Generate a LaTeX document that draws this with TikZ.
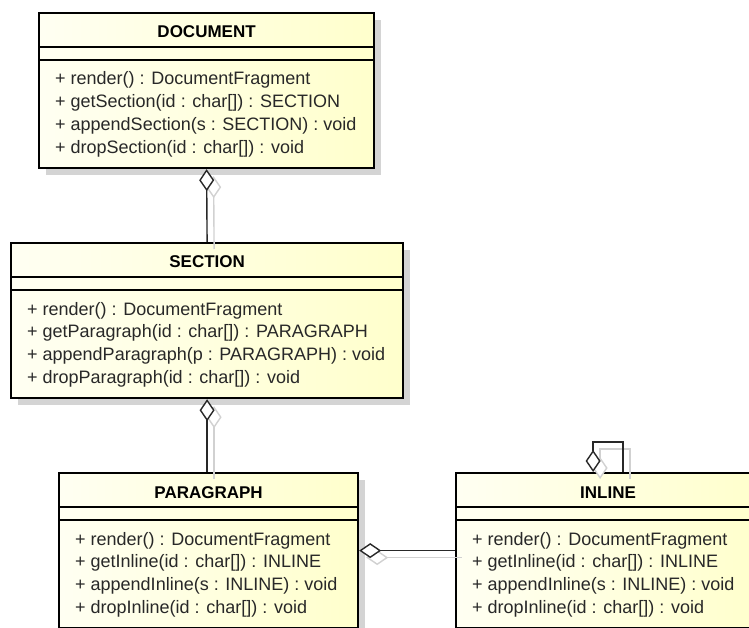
\documentclass[tikz,border=0pt]{standalone}
\usepackage{fontspec}
\setmainfont{Liberation Sans}
\usetikzlibrary{arrows.meta,shadows}

\definecolor{umlyellow}{RGB}{255,255,204}
\definecolor{umlink}{RGB}{40,40,40}

\tikzset{
  classbox/.style={rectangle, draw=black, line width=2.2pt, inner sep=0pt,
    left color=umlyellow!25!white, right color=umlyellow,
    drop shadow={shadow xshift=7pt, shadow yshift=-7pt, fill=black!17, opacity=1}},
  sepline/.style={draw=black, line width=1.2pt},
  classtitle/.style={inner sep=0pt, font=\bfseries\fontsize{17}{20}\selectfont, text=black},
  opline/.style={inner sep=0pt, font=\fontsize{18}{22}\selectfont, text=umlink},
  assoc/.style={draw=umlink, line width=1.4pt},
  agg/.style={assoc, arrows={Diamond[fill=white,length=22pt,width=15pt]-}},
  aggshadow/.style={agg, draw=black!18},
  sh/.style={xshift=7pt, yshift=-7pt},
}

% \umlclass{name}{left}{top}{width}{title}{op1}{op2}{op3}{op4}
\newcommand\umlclass[9]{%
  \node[classbox, anchor=north west, minimum width=#4pt, minimum height=155pt] (#1) at (#2,#3) {};
  \draw[sepline] ([yshift=-35pt]#1.north west) -- ([yshift=-35pt]#1.north east);
  \draw[sepline] ([yshift=-48pt]#1.north west) -- ([yshift=-48pt]#1.north east);
  \node[classtitle, anchor=base] (#1-title) at ([yshift=-26pt]#1.north) {#5};
  \node[opline, anchor=base west] (#1-op1) at ([xshift=17pt,yshift=-73pt]#1.north west) {#6};
  \node[opline, anchor=base west] (#1-op2) at ([xshift=17pt,yshift=-95.7pt]#1.north west) {#7};
  \node[opline, anchor=base west] (#1-op3) at ([xshift=17pt,yshift=-118.4pt]#1.north west) {#8};
  \node[opline, anchor=base west] (#1-op4) at ([xshift=17pt,yshift=-141.1pt]#1.north west) {#9};
}

\begin{document}
\begin{tikzpicture}[x=1pt, y=-1pt]
  \useasboundingbox (0,0) rectangle (749,628);

  % classes
  \umlclass{doc}{38}{12}{335}{DOCUMENT}
    {+ render() : DocumentFragment}
    {+ getSection(id : char[]) : SECTION}
    {+ appendSection(s : SECTION) : void}
    {+ dropSection(id : char[]) : void}
  \umlclass{sec}{10}{242}{392}{SECTION}
    {+ render() : DocumentFragment}
    {+ getParagraph(id : char[]) : PARAGRAPH}
    {+ appendParagraph(p : PARAGRAPH) : void}
    {+ dropParagraph(id : char[]) : void}
  \umlclass{par}{58}{472}{299}{PARAGRAPH}
    {+ render() : DocumentFragment}
    {+ getInline(id : char[]) : INLINE}
    {+ appendInline(s : INLINE) : void}
    {+ dropInline(id : char[]) : void}
  \umlclass{inl}{455}{472}{304}{INLINE}
    {+ render() : DocumentFragment}
    {+ getInline(id : char[]) : INLINE}
    {+ appendInline(s : INLINE) : void}
    {+ dropInline(id : char[]) : void}

  % helper points of the aggregations
  \coordinate (parTop) at (sec.south |- par.north);
  \coordinate (inlLeft) at (par.east -| inl.west);
  \coordinate (loopStart) at ([xshift=-15pt]inl.north);
  \coordinate (loopEnd) at ([xshift=15pt]inl.north);
  \coordinate (loopA) at ([yshift=30pt]loopStart);
  \coordinate (loopB) at ([yshift=30pt]loopEnd);

  % shadows of the aggregations
  \draw[aggshadow] ([sh]doc.south) -- ([sh]sec.north);
  \draw[aggshadow] ([sh]sec.south) -- ([sh]parTop);
  \draw[aggshadow] ([sh]par.east) -- ([sh]inlLeft);
  \draw[aggshadow] ([sh]loopStart) -- ([sh]loopA) -- ([sh]loopB) -- ([sh]loopEnd);

  % aggregations
  \draw[agg] (doc.south) -- (sec.north);
  \draw[agg] (sec.south) -- (parTop);
  \draw[agg] (par.east) -- (inlLeft);
  \draw[agg] (loopStart) -- (loopA) -- (loopB) -- (loopEnd);
\end{tikzpicture}
\end{document}
